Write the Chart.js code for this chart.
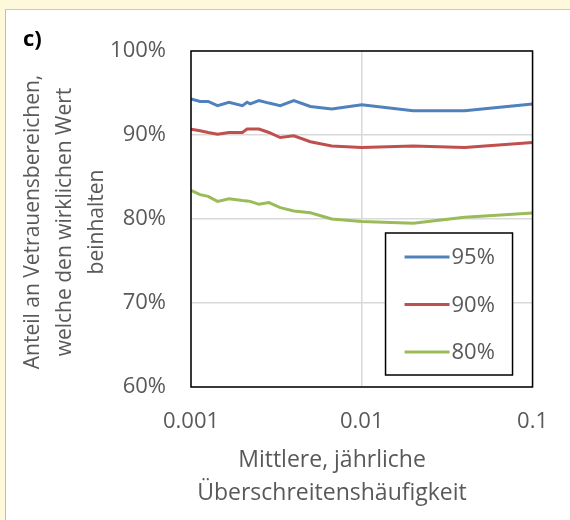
<!DOCTYPE html>
<html>
<head>
<meta charset="utf-8">
<script src="https://cdn.jsdelivr.net/npm/chart.js@4.4.1/dist/chart.umd.min.js"></script>
<style>
  body { margin: 0; background: #fff9dc; }
  #panel {
    position: absolute; left: 5px; top: 9px; width: 565px; height: 511px;
    border-left: 1px solid #bdbdbd; border-top: 1px solid #c8c8c8; background: #ffffff;
  }
  #chart { display: block; }
</style>
</head>
<body>
<div id="panel"><canvas id="chart" width="564" height="510"></canvas></div>
<script>
// mittlere jaehrliche Ueberschreitenshaeufigkeit
const haeufigkeit = [0.001, 0.00113, 0.00126, 0.00143, 0.00167, 0.002, 0.00213, 0.00222, 0.0025,
  0.00286, 0.00333, 0.004, 0.005, 0.00667, 0.01, 0.02, 0.04, 0.1];

// Anteil in %
const anteil_95 = [94.3, 94.0, 94.0, 93.5, 93.9, 93.5, 93.9, 93.7, 94.1,
  93.8, 93.5, 94.1, 93.4, 93.1, 93.6, 92.9, 92.9, 93.7];
const anteil_90 = [90.7, 90.5, 90.3, 90.1, 90.3, 90.3, 90.7, 90.7, 90.7,
  90.3, 89.7, 89.9, 89.2, 88.7, 88.5, 88.7, 88.5, 89.1];
const anteil_80 = [83.4, 82.9, 82.7, 82.1, 82.4, 82.2, 82.15, 82.1, 81.75,
  81.95, 81.35, 80.95, 80.75, 80.0, 79.7, 79.5, 80.2, 80.7];

const labels = ["95%", "90%", "80%"];
const xTicks = [0.001, 0.01, 0.1];
const yTicks = [60, 70, 80, 90, 100];

const FONT = "'Open Sans', sans-serif";
const GRAU = "#595959";

function toPoints(werte) {
  return haeufigkeit.map((f, i) => ({ x: f, y: werte[i] }));
}

// Rahmen, Legende und Achsentitel
const deko = {
  id: "deko",
  afterDraw(chart) {
    const ctx = chart.ctx;
    const a = chart.chartArea;
    ctx.save();

    // Rahmen der Zeichenflaeche
    ctx.strokeStyle = "#000000";
    ctx.lineWidth = 1.5;
    ctx.strokeRect(a.left, a.top, a.right - a.left, a.bottom - a.top);

    // Legende
    const lx = a.right - 147, ly = a.bottom - 154, lw = 127, lh = 142;
    ctx.fillStyle = "#ffffff";
    ctx.fillRect(lx, ly, lw, lh);
    ctx.lineWidth = 1.5;
    ctx.strokeRect(lx, ly, lw, lh);
    ctx.font = "22px " + FONT;
    ctx.textBaseline = "middle";
    ctx.textAlign = "left";
    chart.data.datasets.forEach((ds, i) => {
      const y = ly + 24 + i * 47.5;
      ctx.strokeStyle = ds.borderColor;
      ctx.lineWidth = 3;
      ctx.beginPath();
      ctx.moveTo(lx + 19, y);
      ctx.lineTo(lx + 64, y);
      ctx.stroke();
      ctx.fillStyle = GRAU;
      ctx.fillText(ds.label, lx + 66, y + 1);
    });

    // Achsentitel
    ctx.fillStyle = GRAU;
    ctx.textAlign = "center";
    ctx.font = "23px " + FONT;
    ctx.fillText("Mittlere, jährliche", 326, 450);
    ctx.fillText("Überschreitenshäufigkeit", 326, 483);

    ctx.save();
    ctx.font = "21px " + FONT;
    ctx.translate(0, 212);
    ctx.rotate(-Math.PI / 2);
    ctx.fillText("Anteil an Vetrauensbereichen,", 0, 27);
    ctx.fillText("welche den wirklichen Wert", 0, 59);
    ctx.fillText("beinhalten", 0, 91);
    ctx.restore();

    ctx.font = "bold 22px " + FONT;
    ctx.fillStyle = "#000000";
    ctx.textAlign = "left";
    ctx.fillText("c)", 17, 30);
    ctx.restore();
  },
};

new Chart(document.getElementById("chart"), {
  type: "line",
  data: {
    datasets: [
      { label: labels[0], data: toPoints(anteil_95), borderColor: "#4f81bd" },
      { label: labels[1], data: toPoints(anteil_90), borderColor: "#c0504d" },
      { label: labels[2], data: toPoints(anteil_80), borderColor: "#9bbb59" },
    ].map((d) => Object.assign(d, { borderWidth: 3, pointRadius: 0, tension: 0, fill: false })),
  },
  options: {
    responsive: false,
    animation: false,
    layout: { padding: { left: 0, top: 41, right: 30, bottom: 0 } },
    scales: {
      x: {
        type: "logarithmic",
        min: 0.001,
        max: 0.1,
        afterBuildTicks: (scale) => { scale.ticks = xTicks.map((v) => ({ value: v })); },
        afterFit: (scale) => { scale.height = 133; },
        grid: { color: "#d9d9d9", lineWidth: 1.5, drawTicks: false },
        border: { display: false },
        ticks: {
          color: GRAU,
          font: { family: FONT, size: 22 },
          padding: 22,
          maxRotation: 0,
          autoSkip: false,
          callback: (v) => String(v),
        },
      },
      y: {
        min: 60,
        max: 100,
        afterBuildTicks: (scale) => { scale.ticks = yTicks.map((v) => ({ value: v })); },
        afterFit: (scale) => { scale.width = 185; },
        grid: { color: "#d9d9d9", lineWidth: 1.5, drawTicks: false },
        border: { display: false },
        ticks: {
          color: GRAU,
          font: { family: FONT, size: 22 },
          padding: 25,
          callback: (v) => v + "%",
        },
      },
    },
    plugins: {
      legend: { display: false },
      tooltip: { enabled: false },
    },
  },
  plugins: [deko],
});
</script>
</body>
</html>
